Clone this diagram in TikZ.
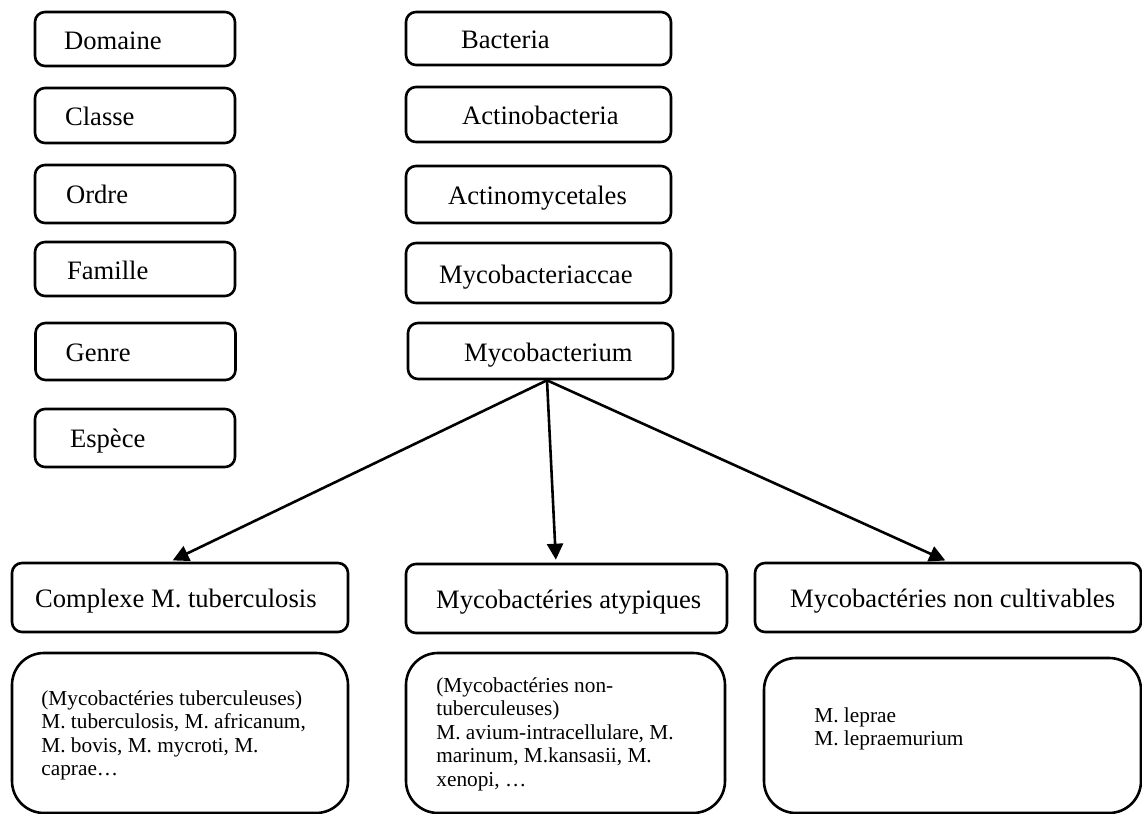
\documentclass[tikz,border=0pt]{standalone}
\usepackage{fontspec}
\setmainfont{Liberation Serif}
\usetikzlibrary{arrows.meta}
\tikzset{
  rbox/.style={draw, line width=1.3pt, rounded corners=5pt, inner sep=0pt},
  bigbox/.style={draw, line width=1.3pt, rounded corners=16pt, inner sep=0pt},
  lbl/.style={anchor=base west, inner sep=0pt, font=\fontsize{13.3pt}{16pt}\selectfont},
  small/.style={anchor=north west, inner sep=0pt, align=left, font=\fontsize{10.65pt}{11.75pt}\selectfont},
  arr/.style={line width=1.3pt, -{Triangle[length=8pt,width=8pt]}, shorten >=1.5pt}
}
\begin{document}
\begin{tikzpicture}[x=0.5pt,y=-0.5pt]
\useasboundingbox (0,0) rectangle (1142,814);
% left column
\node[rbox, minimum width=100pt, minimum height=27pt] (dom) at (135,39) {};
\node[rbox, minimum width=100pt, minimum height=27.5pt] (cla) at (135,115.5) {};
\node[rbox, minimum width=100pt, minimum height=29pt] (ord) at (135,194) {};
\node[rbox, minimum width=100pt, minimum height=27pt] (fam) at (135,269) {};
\node[rbox, minimum width=100pt, minimum height=28.5pt] (gen) at (135.5,351.5) {};
\node[rbox, minimum width=100pt, minimum height=29pt] (esp) at (135,438) {};
\node[lbl] (tdom) at ([xshift=15pt,yshift=-5pt]dom.west) {Domaine};
\node[lbl] (tcla) at ([xshift=15.5pt,yshift=-5pt]cla.west) {Classe};
\node[lbl] (tord) at ([xshift=16pt,yshift=-4.5pt]ord.west) {Ordre};
\node[lbl] (tfam) at ([xshift=16.5pt,yshift=-5pt]fam.west) {Famille};
\node[lbl] (tgen) at ([xshift=15.5pt,yshift=-5pt]gen.west) {Genre};
\node[lbl] (tesp) at ([xshift=18pt,yshift=-4.5pt]esp.west) {Espèce};
% right column
\node[rbox, minimum width=132.5pt, minimum height=26.5pt] (bac) at (538.5,38.5) {};
\node[rbox, minimum width=132.5pt, minimum height=27.5pt] (act) at (538.5,114.5) {};
\node[rbox, minimum width=132.5pt, minimum height=28.5pt] (acm) at (538.5,194.5) {};
\node[rbox, minimum width=132.5pt, minimum height=30pt] (myf) at (538.5,273) {};
\node[rbox, minimum width=132.5pt, minimum height=28pt] (myc) at (540.5,351) {};
\node[lbl] (tbac) at ([xshift=28pt,yshift=-5pt]bac.west) {Bacteria};
\node[lbl] (tact) at ([xshift=28.5pt,yshift=-5pt]act.west) {Actinobacteria};
\node[lbl] (tacm) at ([xshift=21.5pt,yshift=-5pt]acm.west) {Actinomycetales};
\node[lbl] (tmyf) at ([xshift=17pt,yshift=-5pt]myf.west) {Mycobacteriaccae};
\node[lbl] (tmyc) at ([xshift=28.5pt,yshift=-5pt]myc.west) {Mycobacterium};
% bottom categories
\node[rbox, minimum width=168pt, minimum height=34.5pt] (cpx) at (180,597.5) {};
\node[rbox, minimum width=160.5pt, minimum height=34.5pt] (aty) at (566.5,598.5) {};
\node[rbox, minimum width=193pt, minimum height=34.5pt] (ncu) at (948,597.5) {};
\node[lbl] (tcpx) at ([xshift=12pt,yshift=-5pt]cpx.west) {Complexe M. tuberculosis};
\node[lbl] (taty) at ([xshift=15.5pt,yshift=-5pt]aty.west) {Mycobactéries atypiques};
\node[lbl] (tncu) at ([xshift=18pt,yshift=-5pt]ncu.west) {Mycobactéries non cultivables};
% detail boxes
\node[bigbox, minimum width=168pt, minimum height=80pt] (d1) at (180,733) {};
\node[bigbox, minimum width=159.5pt, minimum height=80pt] (d2) at (565.5,733) {};
\node[bigbox, minimum width=188.5pt, minimum height=77.5pt] (d3) at (952.5,735.5) {};
\node[small] (td1) at (41,688.5) {\strut(Mycobactéries tuberculeuses)\\M. tuberculosis, M. africanum,\\M. bovis, M. mycroti, M.\\caprae…};
\node[small] (td2) at (436,675.5) {\strut(Mycobactéries non-\\tuberculeuses)\\M. avium-intracellulare, M.\\marinum, M.kansasii, M.\\xenopi, …};
\node[small] (td3) at (814,705.5) {\strut M. leprae\\M. lepraemurium};
% arrows
\draw[arr] ([xshift=3.25pt]myc.south) -- ([xshift=-5pt]cpx.north);
\draw[arr] ([xshift=3.25pt]myc.south) -- ([xshift=-5.25pt]aty.north);
\draw[arr] ([xshift=3.25pt]myc.south) -- (ncu.north);
\end{tikzpicture}
\end{document}
